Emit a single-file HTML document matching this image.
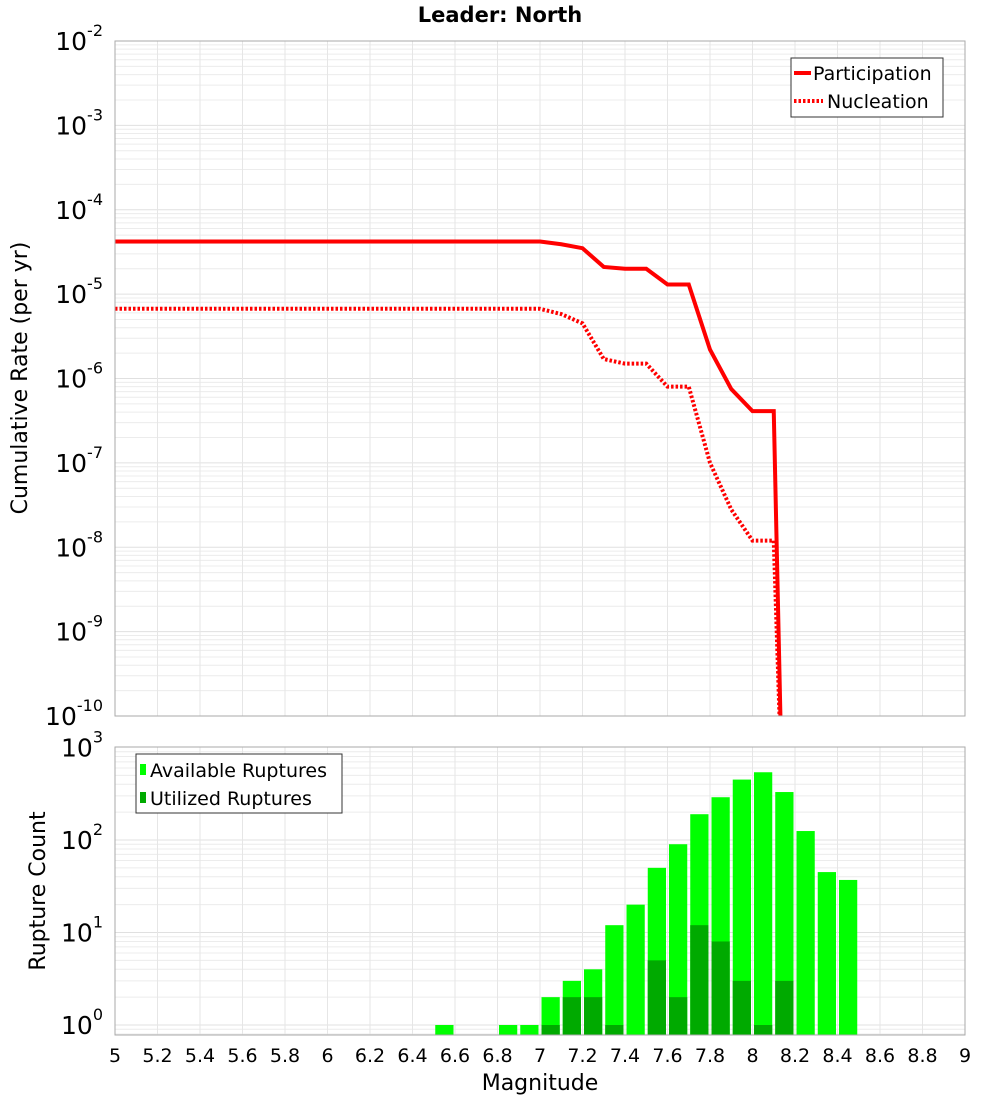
<!DOCTYPE html>
<html><head><meta charset="utf-8"><style>
body{margin:0;background:#fff;font-family:"DejaVu Sans","Liberation Sans",sans-serif;}
svg text{font-family:"DejaVu Sans","Liberation Sans",sans-serif;}
</style></head><body>
<svg id="c" width="1000" height="1100" xmlns="http://www.w3.org/2000/svg">
<text x="500" y="22" text-anchor="middle" font-size="21" font-weight="bold">Leader: North</text>
<g id="topPanel"></g><g id="botPanel"></g>
<text transform="translate(27,378) rotate(-90)" text-anchor="middle" font-size="22">Cumulative Rate (per yr)</text>
<text transform="translate(45,891) rotate(-90)" text-anchor="middle" font-size="22">Rupture Count</text>
<text x="540" y="1090" text-anchor="middle" font-size="22">Magnitude</text>
</svg>
<script>
const mags=[5.0,7.0,7.1,7.2,7.3,7.4,7.5,7.6,7.7,7.8,7.9,8.0,8.1,8.14];
const partRate=[4.2e-5,4.2e-5,3.9e-5,3.5e-5,2.1e-5,2.0e-5,2.0e-5,1.3e-5,1.3e-5,2.2e-6,7.5e-7,4.1e-7,4.1e-7,1e-11];
const nuclRate=[6.7e-6,6.7e-6,5.8e-6,4.5e-6,1.7e-6,1.5e-6,1.5e-6,8e-7,8e-7,1e-7,2.8e-8,1.2e-8,1.2e-8,1e-11];
const binMags=[6.55,6.85,6.95,7.05,7.15,7.25,7.35,7.45,7.55,7.65,7.75,7.85,7.95,8.05,8.15,8.25,8.35,8.45];
const available=[1,1,1,2,3,4,12,20,50,90,190,290,450,540,330,125,45,37];
const utilized=[0,0,0,1,2,2,1,0,5,2,12,8,3,1,3,0,0,0];
const xTicks=["5","5.2","5.4","5.6","5.8","6","6.2","6.4","6.6","6.8","7","7.2","7.4","7.6","7.8","8","8.2","8.4","8.6","8.8","9"];
const NS="http://www.w3.org/2000/svg";
const X0=115,X1=965;
const sx=m=>X0+(m-5)/4*(X1-X0);
function mk(p,t,a){const e=document.createElementNS(NS,t);for(const k in a)e.setAttribute(k,a[k]);p.appendChild(e);return e;}
function panel(g,y0,y1,dmin,dmax,ybase){
  const sy=v=>ybase(Math.log10(v));
  mk(g,'rect',{x:X0,y:y0,width:X1-X0,height:y1-y0,fill:'#fff'});
  for(let d=dmin-1;d<dmax;d++)for(let k=1;k<10;k++){const y=sy(k*Math.pow(10,d));if(y<y0||y>y1)continue;
    const l=mk(g,'line',{x1:X0,x2:X1,y1:y,y2:y,stroke:k==1?'#e0e0e0':'#ececec','stroke-width':1});
    
    }
  xTicks.forEach(t=>{const x=sx(+t);const l=mk(g,'line',{x1:x,x2:x,y1:y0,y2:y1,stroke:'#e6e6e6'});
    
    });
  for(let d=dmin;d<=dmax;d++){const y=sy(Math.pow(10,d));const t=mk(g,'text',{x:103,y:y+9,'text-anchor':'end','font-size':25});
    t.textContent='10';const s=mk(t,'tspan',{dy:-14,'font-size':16});s.textContent=d;
    
    }
  return sy;
}
const gTop=document.getElementById('topPanel'),gBot=document.getElementById('botPanel');
const syT=panel(gTop,41,716,-10,-2,l=>41+(-2-l)*84.375);
const cp=mk(gTop,'clipPath',{id:'cp'});
mk(cp,'rect',{x:X0,y:41,width:X1-X0,height:675});
function line(vals,dash,name){const p=mk(gTop,'polyline',{points:mags.map((m,i)=>sx(m)+','+syT(vals[i])).join(' '),fill:'none',stroke:'#f00','stroke-width':4,'clip-path':'url(#cp)'});
  if(dash)p.setAttribute('stroke-dasharray','2.5,2');
  
  }
line(partRate,false,'participation-line');
line(nuclRate,true,'nucleation-line');
mk(gTop,'rect',{x:X0,y:41,width:X1-X0,height:675,fill:'none',stroke:'#aaa'});
const lg=mk(gTop,'g',{});


mk(lg,'rect',{x:791,y:58,width:152,height:59,fill:'#fff',stroke:'#333'});
mk(lg,'line',{x1:794,x2:811,y1:73,y2:73,stroke:'#f00','stroke-width':4});
mk(lg,'line',{x1:794,x2:823,y1:101,y2:101,stroke:'#f00','stroke-width':4,'stroke-dasharray':'2.5,2'});
let t=mk(lg,'text',{x:813,y:80,'font-size':19});t.textContent='Participation';
t=mk(lg,'text',{x:827,y:108,'font-size':19});t.textContent='Nucleation';
const syB=panel(gBot,747,1035,0,3,l=>1025-l*92.5);
binMags.forEach((m,i)=>{const x=sx(m-0.05)+1.5,w=sx(m+0.05)-sx(m-0.05)-3;
  if(available[i]>0){const y=syB(available[i]);const r=mk(gBot,'rect',{x:x,y:y,width:w,height:1035-y,fill:'#00ff00'});
    
    }
  if(utilized[i]>0){const y=syB(utilized[i]);const r=mk(gBot,'rect',{x:x,y:y,width:w,height:1035-y,fill:'#00aa00'});
    
    }
});
mk(gBot,'rect',{x:X0,y:747,width:X1-X0,height:288,fill:'none',stroke:'#aaa'});
xTicks.forEach(s=>{const tt=mk(gBot,'text',{x:sx(+s),y:1062,'text-anchor':'middle','font-size':19});tt.textContent=s;
  
  });
const bl=mk(gBot,'g',{});


mk(bl,'rect',{x:136,y:754,width:206,height:59,fill:'#fff',stroke:'#333'});
mk(bl,'rect',{x:140,y:764,width:6,height:11,fill:'#00ff00'});
mk(bl,'rect',{x:140,y:792,width:6,height:11,fill:'#00aa00'});
t=mk(bl,'text',{x:150,y:777,'font-size':19});t.textContent='Available Ruptures';
t=mk(bl,'text',{x:150,y:805,'font-size':19});t.textContent='Utilized Ruptures';
</script>
</body></html>
